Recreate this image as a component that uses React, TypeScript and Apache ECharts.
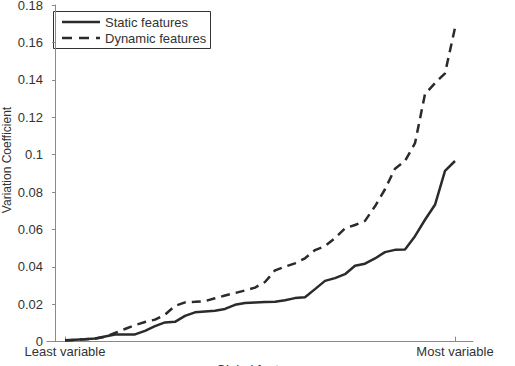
import React, { useEffect, useRef } from "react";
import * as echarts from "echarts";

const featureRank: number[] = Array.from({ length: 40 }, (_, i) => i + 1);
const staticFeatures: number[] = [
  0.00075, 0.0011, 0.0013, 0.0017, 0.0028, 0.0039, 0.0039, 0.0039, 0.0058, 0.0083,
  0.0103, 0.0106, 0.0138, 0.0157, 0.0161, 0.0165, 0.0175, 0.0197, 0.0207, 0.021,
  0.0212, 0.0214, 0.0222, 0.0233, 0.0238, 0.0281, 0.0325, 0.034, 0.0361, 0.0406,
  0.0417, 0.0445, 0.0479, 0.0491, 0.0493, 0.0564, 0.0652, 0.0732, 0.0913, 0.0966,
];
const dynamicFeatures: number[] = [
  0.0006, 0.001, 0.0013, 0.0016, 0.0026, 0.0047, 0.0068, 0.0089, 0.0105, 0.0118,
  0.0145, 0.0191, 0.021, 0.0213, 0.0217, 0.0232, 0.0247, 0.026, 0.0274, 0.0289,
  0.0319, 0.0381, 0.0401, 0.0419, 0.0446, 0.049, 0.0511, 0.0554, 0.0606, 0.0624,
  0.0646, 0.0724, 0.0815, 0.0925, 0.0966, 0.1061, 0.1324, 0.1382, 0.1435, 0.1678,
];
const xTickLabels: string[] = ["Least variable", "Most variable"];
const seriesNames: string[] = ["Static features", "Dynamic features"];

const FONT = "'Liberation Sans', Arial, Helvetica, sans-serif";
const TEXT = "#333333";
const AXIS = "#8a8a8a";
const LINE = "#2b2b2b";
const DASH = [9, 6];

export default function App() {
  const ref = useRef<HTMLDivElement>(null);
  useEffect(() => {
    if (!ref.current) return;
    const chart = echarts.init(ref.current, undefined, { renderer: "svg" });
    const first = featureRank[0];
    const last = featureRank[featureRank.length - 1];
    chart.setOption({
      animation: false,
      backgroundColor: "#ffffff",
      textStyle: { fontFamily: FONT },
      grid: { left: 47, right: 42, top: 5, bottom: 24.3, containLabel: false, outerBoundsMode: "none" },
      xAxis: {
        type: "value",
        min: first - 1.8,
        max: last + 1.8,
        name: "Global features",
        nameLocation: "middle",
        nameGap: 17,
        nameTextStyle: { fontSize: 13, color: TEXT, fontFamily: FONT },
        axisLine: { lineStyle: { color: AXIS, width: 1 } },
        axisTick: { inside: true, length: 5, customValues: [first, last], lineStyle: { color: AXIS } },
        axisLabel: {
          customValues: [first, last],
          formatter: (v: number) => (v === first ? xTickLabels[0] : xTickLabels[1]),
          fontSize: 13,
          color: TEXT,
          margin: 3,
          fontFamily: FONT,
        },
        splitLine: { show: false },
      },
      yAxis: {
        type: "value",
        min: 0,
        max: 0.18,
        interval: 0.02,
        axisLine: { show: true, lineStyle: { color: AXIS, width: 1 } },
        axisTick: { show: true, length: 3, lineStyle: { color: AXIS } },
        axisLabel: {
          fontSize: 13,
          color: TEXT,
          margin: 4,
          fontFamily: FONT,
          formatter: (v: number) => String(Math.round(v * 100) / 100),
        },
        splitLine: { show: false },
      },
      graphic: [
        {
          type: "text",
          x: 7,
          y: 160,
          rotation: Math.PI / 2,
          style: {
            text: "Variation Coefficient",
            fontSize: 12,
            fill: TEXT,
            fontFamily: FONT,
            align: "center",
            verticalAlign: "middle",
          },
        },
        {
          type: "group",
          z: 100,
          children: [
            {
              type: "rect",
              shape: { x: 53.5, y: 11.5, width: 157, height: 37 },
              style: { fill: "#ffffff", stroke: "#333333", lineWidth: 1 },
            },
            {
              type: "line",
              shape: { x1: 62, y1: 22, x2: 100, y2: 22 },
              style: { stroke: LINE, lineWidth: 2.5 },
            },
            {
              type: "line",
              shape: { x1: 62, y1: 38, x2: 100, y2: 38 },
              style: { stroke: LINE, lineWidth: 2.5, lineDash: [10, 7] },
            },
            {
              type: "text",
              x: 105,
              y: 22,
              style: { text: seriesNames[0], fontSize: 13, fill: TEXT, fontFamily: FONT, verticalAlign: "middle" },
            },
            {
              type: "text",
              x: 105,
              y: 38,
              style: { text: seriesNames[1], fontSize: 13, fill: TEXT, fontFamily: FONT, verticalAlign: "middle" },
            },
          ],
        },
      ],
      series: [
        {
          name: seriesNames[0],
          type: "line",
          symbol: "none",
          color: LINE,
          lineStyle: { color: LINE, width: 2.5, type: "solid" },
          data: featureRank.map((r, i) => [r, staticFeatures[i]]),
        },
        {
          name: seriesNames[1],
          type: "line",
          symbol: "none",
          color: LINE,
          lineStyle: { color: LINE, width: 2.5, type: DASH },
          data: featureRank.map((r, i) => [r, dynamicFeatures[i]]),
        },
      ],
    });
    return () => chart.dispose();
  }, []);
  return (
    <div
      ref={ref}
      style={{ position: "absolute", left: 0, top: 0, width: 515, height: 366 }}
    />
  );
}
